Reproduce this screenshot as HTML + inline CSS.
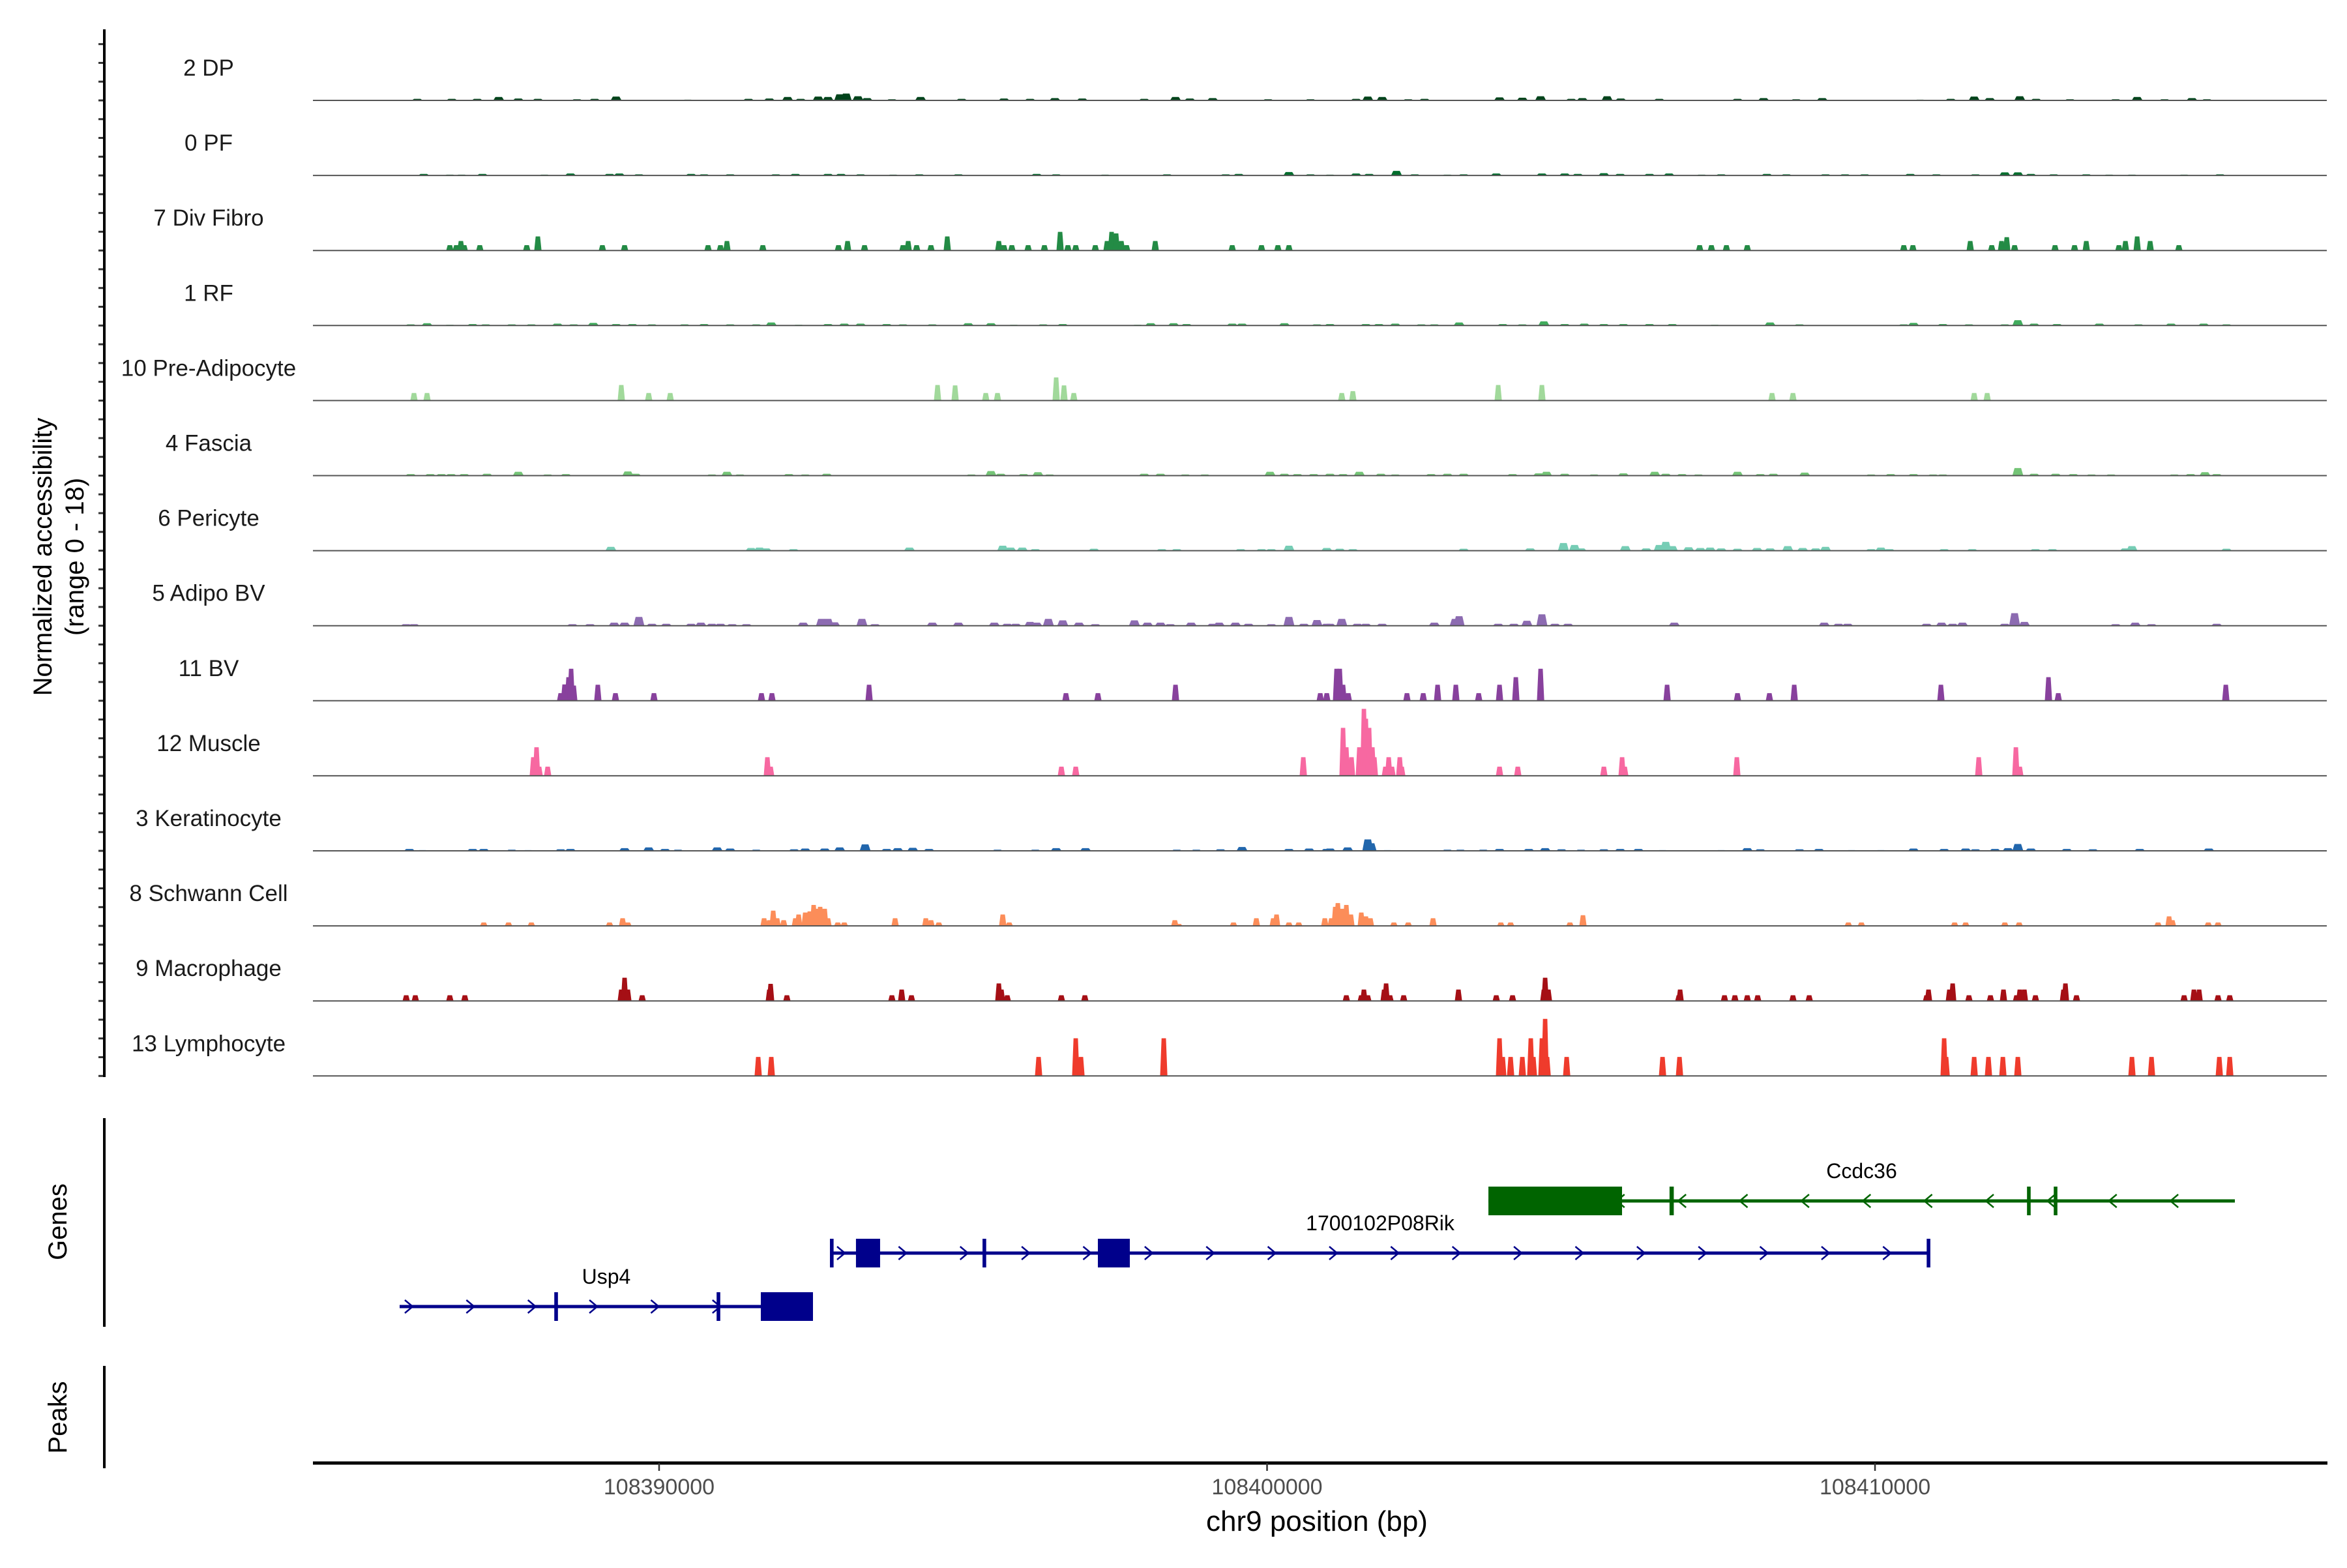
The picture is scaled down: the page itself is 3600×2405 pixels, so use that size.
<!DOCTYPE html>
<html><head><meta charset="utf-8"><style>
html,body{margin:0;padding:0;background:#fff;}
svg text{font-family:"Liberation Sans",Arial,sans-serif;}
</style></head><body>
<svg id="chart" xmlns="http://www.w3.org/2000/svg" width="3600" height="2400" viewBox="0 0 3600 2400">
<rect x="0" y="0" width="3600" height="2400" fill="#fff"/>
<g id="tracks"></g>
<g id="genes"></g>
<g id="axes"></g>
</svg>
<script>
const trackNames = ["2 DP","0 PF","7 Div Fibro","1 RF","10 Pre-Adipocyte","4 Fascia","6 Pericyte","5 Adipo BV","11 BV","12 Muscle","3 Keratinocyte","8 Schwann Cell","9 Macrophage","13 Lymphocyte"];
const trackColors = ["#00441b","#006d2c","#238b45","#41ab5d","#a1d99b","#74c476","#76cdb5","#8c6bb1","#88419d","#f768a1","#2166ac","#fc8d59","#a50f15","#ef3b2c"];
const xTicks = [108390000,108400000,108410000];
const xTickLabels = ["108390000","108400000","108410000"];
const yRange = [0,18];

const peaksDP = [[108386022,0.4],[108386590,0.4],[108387008,0.4],[108387362,0.9],[108387684,0.5],[108388006,0.4],[108388649,0.3],[108388939,0.4],[108389293,1.0],[108390472,0.2],[108391470,0.4],[108391813,0.5],[108392113,0.9],[108392328,0.4],[108392617,1.0],[108392778,0.9],[108392971,1.6],[108393078,1.8],[108393271,1.1],[108393421,0.6],[108393829,0.3],[108394301,0.9],[108394976,0.4],[108395673,0.5],[108396102,0.4],[108396510,0.6],[108396960,0.5],[108397979,0.4],[108398494,0.9],[108398730,0.5],[108399105,0.6],[108400017,0.3],[108400714,0.3],[108401464,0.4],[108401657,1.0],[108401893,0.9],[108402322,0.3],[108402590,0.4],[108403824,0.8],[108404199,0.7],[108404499,1.1],[108405003,0.4],[108405186,0.6],[108405593,1.1],[108405818,0.5],[108406451,0.4],[108407738,0.4],[108408167,0.6],[108408703,0.3],[108409132,0.6],[108410741,0.2],[108411245,0.4],[108411631,1.0],[108411888,0.6],[108412381,1.1],[108412650,0.4],[108413207,0.3],[108413958,0.3],[108414312,0.9],[108414762,0.3],[108415213,0.6],[108415459,0.3]];
const peaksPF = [[108386129,0.4],[108386558,0.2],[108386751,0.2],[108387094,0.4],[108387738,0.1],[108388113,0.2],[108388542,0.5],[108389185,0.4],[108389346,0.5],[108389668,0.3],[108390526,0.4],[108390740,0.3],[108391169,0.3],[108391920,0.3],[108392242,0.4],[108392778,0.4],[108392992,0.4],[108393314,0.3],[108393850,0.2],[108394279,0.3],[108394923,0.3],[108396210,0.4],[108396531,0.3],[108397336,0.2],[108398354,0.3],[108399320,0.3],[108399534,0.4],[108400360,0.9],[108400714,0.3],[108401035,0.2],[108401464,0.5],[108401679,0.4],[108402129,1.2],[108402430,0.3],[108402966,0.2],[108403234,0.3],[108403770,0.5],[108404521,0.5],[108404896,0.5],[108405111,0.4],[108405540,0.6],[108405808,0.4],[108406290,0.4],[108406612,0.5],[108407148,0.2],[108407470,0.3],[108408221,0.4],[108408542,0.3],[108409186,0.3],[108409507,0.3],[108409829,0.3],[108410580,0.4],[108411009,0.3],[108411652,0.3],[108412135,0.8],[108412349,0.8],[108412564,0.4],[108412939,0.3],[108413475,0.3],[108413851,0.2],[108414226,0.2],[108415084,0.2],[108415674,0.3]];
const peaksDivFibro = [[108386558,1.4],[108386665,1.4],[108386740,2.5],[108386794,1.4],[108387051,1.4],[108387823,1.4],[108388006,3.7],[108389067,1.4],[108389432,1.4],[108390805,1.4],[108391009,1.4],[108391116,2.5],[108391706,1.4],[108392950,1.4],[108393100,2.5],[108393379,1.4],[108394011,1.4],[108394097,2.5],[108394236,1.4],[108394472,1.4],[108394740,3.7],[108395588,2.5],[108395673,1.4],[108395802,1.4],[108396070,1.4],[108396338,1.4],[108396596,4.9],[108396724,1.4],[108396853,1.4],[108397175,1.4],[108397368,2.5],[108397443,4.9],[108397518,4.5],[108397604,2.5],[108397690,1.4],[108398161,2.5],[108399427,1.4],[108399909,1.4],[108400178,1.4],[108400360,1.4],[108407116,1.4],[108407309,1.4],[108407556,1.4],[108407899,1.4],[108410473,1.4],[108410623,1.4],[108411566,2.5],[108411920,1.4],[108412081,2.5],[108412167,3.5],[108412296,1.4],[108412961,1.4],[108413282,1.4],[108413475,2.5],[108414012,1.4],[108414119,2.5],[108414312,3.7],[108414526,2.5],[108414998,1.4]];
const peaksRF = [[108385915,0.3],[108386183,0.6],[108386558,0.2],[108386933,0.4],[108387148,0.3],[108387577,0.3],[108387899,0.3],[108388328,0.5],[108388596,0.3],[108388917,0.7],[108389293,0.4],[108389561,0.4],[108389882,0.3],[108390419,0.3],[108390740,0.4],[108391169,0.3],[108391598,0.3],[108391845,0.8],[108392295,0.2],[108392778,0.4],[108393046,0.5],[108393314,0.5],[108393743,0.4],[108394011,0.3],[108394494,0.3],[108395084,0.6],[108395459,0.6],[108395834,0.2],[108396317,0.3],[108396639,0.4],[108397872,0.2],[108398086,0.6],[108398462,0.6],[108398676,0.4],[108399427,0.5],[108399588,0.5],[108400285,0.6],[108400821,0.3],[108401035,0.4],[108401625,0.4],[108401840,0.4],[108402108,0.5],[108402537,0.3],[108402751,0.3],[108403159,0.8],[108403877,0.4],[108404199,0.3],[108404553,1.1],[108404896,0.4],[108405218,0.5],[108405540,0.4],[108405861,0.4],[108406290,0.4],[108406666,0.4],[108407363,0.2],[108408274,0.8],[108408757,0.3],[108410473,0.3],[108410633,0.7],[108411116,0.4],[108411545,0.3],[108412135,0.3],[108412349,1.4],[108412617,0.5],[108412993,0.4],[108413690,0.5],[108414333,0.3],[108414869,0.5],[108415406,0.5],[108415781,0.3]];
const peaksPreAdipo = [[108385968,2],[108386183,2],[108389378,4.1],[108389829,2],[108390183,2],[108394580,4.1],[108394869,4],[108395373,2],[108395566,2],[108396531,6.1],[108396660,4],[108396821,2],[108401229,2],[108401411,2.5],[108403802,4.1],[108404521,4.1],[108408306,2],[108408650,2],[108411631,2],[108411845,2]];
const peaksFascia = [[108385915,0.4],[108386236,0.4],[108386419,0.4],[108386579,0.4],[108386794,0.4],[108387169,0.5],[108387684,1.0],[108388167,0.3],[108388467,0.4],[108389486,1.1],[108389614,0.5],[108390869,0.3],[108391116,1.0],[108391330,0.3],[108392135,0.4],[108392403,0.3],[108392757,0.5],[108395137,0.3],[108395459,1.2],[108395620,0.5],[108395995,0.4],[108396231,0.9],[108396424,0.3],[108397979,0.5],[108398247,0.5],[108398655,0.3],[108398976,0.3],[108400049,1.0],[108400285,0.5],[108400499,0.4],[108400767,0.4],[108401035,0.5],[108401250,0.4],[108401518,1.0],[108401872,0.5],[108402108,0.3],[108402698,0.4],[108402966,0.5],[108403234,0.5],[108404038,0.4],[108404467,0.6],[108404596,1.0],[108404896,0.5],[108405379,0.3],[108405861,0.6],[108406376,1.0],[108406558,0.5],[108406826,0.4],[108407095,0.3],[108407738,1.0],[108408113,0.4],[108408328,0.5],[108408843,0.8],[108409936,0.3],[108410258,0.4],[108410633,0.4],[108410955,0.3],[108411116,0.3],[108412349,2.0],[108412617,0.5],[108412971,0.5],[108413261,0.4],[108413561,0.3],[108413883,0.3],[108414923,0.3],[108415191,0.4],[108415427,0.9],[108415620,0.4]];
const peaksPericyte = [[108389207,1.0],[108391513,0.7],[108391652,0.8],[108391759,0.6],[108392210,0.4],[108394118,0.8],[108395652,1.3],[108395781,0.8],[108395974,0.8],[108396188,0.4],[108397153,0.5],[108398269,0.4],[108398515,0.4],[108399566,0.4],[108399909,0.4],[108400070,0.4],[108400360,1.3],[108400982,0.7],[108401196,0.5],[108401411,0.4],[108403234,0.5],[108404328,0.6],[108404875,2.0],[108405057,1.5],[108405164,0.6],[108405893,1.2],[108406237,0.6],[108406451,1.5],[108406558,2.3],[108406666,1.2],[108406934,0.9],[108407127,0.7],[108407288,0.8],[108407470,0.6],[108407738,0.5],[108408060,0.7],[108408274,0.6],[108408564,1.2],[108408810,0.7],[108409025,0.6],[108409186,1.0],[108409936,0.4],[108410097,0.8],[108410237,0.4],[108411137,0.4],[108411599,0.4],[108412639,0.4],[108412918,0.4],[108414119,0.6],[108414226,1.2],[108415781,0.5]];
const peaksAdipoBV = [[108385840,0.4],[108385968,0.4],[108388574,0.4],[108388864,0.4],[108389261,0.8],[108389432,0.8],[108389668,2.3],[108389882,0.5],[108390118,0.5],[108390526,0.5],[108390687,0.8],[108390869,0.5],[108391009,0.5],[108391202,0.4],[108391437,0.4],[108392370,0.8],[108392671,1.8],[108392778,1.8],[108392885,0.9],[108393336,1.8],[108393550,0.4],[108394494,0.8],[108394923,0.8],[108395513,0.8],[108395727,0.5],[108395866,0.5],[108396102,1.0],[108396210,0.8],[108396403,1.8],[108396639,1.4],[108396907,0.8],[108397175,0.4],[108397818,1.4],[108398033,0.8],[108398247,0.8],[108398408,0.4],[108398751,0.8],[108399105,0.5],[108399212,0.8],[108399480,0.8],[108399695,0.5],[108400070,0.4],[108400360,2.3],[108400606,0.5],[108400821,1.5],[108401035,0.5],[108400982,0.5],[108401229,1.8],[108401486,0.5],[108401625,0.5],[108401893,0.5],[108402751,0.8],[108403094,1.8],[108403159,2.5],[108403802,0.5],[108404060,0.5],[108404274,1.3],[108404521,3.0],[108404735,0.5],[108404950,0.5],[108406698,0.8],[108409164,0.8],[108409400,0.5],[108409550,0.5],[108410848,0.5],[108411094,0.8],[108411277,0.5],[108411438,0.8],[108412135,0.5],[108412296,3.3],[108412457,1.0],[108413958,0.4],[108414280,0.8],[108414548,0.4],[108415620,0.5]];
const peaksBV = [[108388381,2],[108388445,4.3],[108388510,6.2],[108388553,8.4],[108388596,4.0],[108388992,4.2],[108389282,2],[108389915,2],[108391684,2],[108391856,2],[108393454,4.2],[108396692,2],[108397218,2],[108398494,4.2],[108400982,2],[108400875,2],[108401143,8.4],[108401196,8.4],[108401250,4.2],[108401336,2],[108402301,2],[108402569,2],[108402805,4.2],[108403105,4.2],[108403481,2],[108403824,4.2],[108404092,6.2],[108404499,8.4],[108406580,4.2],[108407738,2],[108408263,2],[108408671,4.2],[108411084,4.2],[108412853,6.2],[108413014,2],[108415770,4.2]];
const peaksMuscle = [[108387931,4.9],[108387984,7.5],[108388027,2.4],[108388167,2.4],[108391781,4.9],[108391834,2.4],[108396617,2.4],[108396853,2.4],[108400596,4.9],[108401250,12.6],[108401304,7.5],[108401389,4.9],[108401518,7.5],[108401593,17.6],[108401625,15],[108401679,12.6],[108401733,7.5],[108401765,4.9],[108401947,2.4],[108402001,4.9],[108402054,2.4],[108402183,4.9],[108402215,2.4],[108403824,2.4],[108404124,2.4],[108405540,2.4],[108405840,4.9],[108405883,2.4],[108407727,4.9],[108411706,4.9],[108412317,7.5],[108412381,2.4]];
const peaksKeratinocyte = [[108385893,0.5],[108386108,0.2],[108386933,0.5],[108387116,0.5],[108387577,0.3],[108387845,0.2],[108388381,0.4],[108388542,0.5],[108389432,0.7],[108389829,0.9],[108390097,0.5],[108390311,0.3],[108390955,0.9],[108391169,0.6],[108391598,0.3],[108392220,0.4],[108392403,0.6],[108392724,0.6],[108392971,0.9],[108393389,1.7],[108393743,0.5],[108393925,0.7],[108394172,0.8],[108394440,0.5],[108395566,0.3],[108396188,0.3],[108396531,0.7],[108397014,0.7],[108398515,0.3],[108398837,0.3],[108399234,0.4],[108399588,1.0],[108400360,0.5],[108400692,0.6],[108401035,0.6],[108400982,0.5],[108401325,0.9],[108401657,3.0],[108401711,2.0],[108401979,0.2],[108402966,0.3],[108403180,0.3],[108403556,0.3],[108403824,0.5],[108404306,0.5],[108404574,0.7],[108404843,0.4],[108405164,0.3],[108405540,0.4],[108405808,0.5],[108406108,0.5],[108406505,0.2],[108407470,0.2],[108407899,0.7],[108408113,0.4],[108408757,0.4],[108409078,0.5],[108409615,0.2],[108410097,0.2],[108410633,0.6],[108411137,0.5],[108411491,0.6],[108411652,0.4],[108411973,0.5],[108412188,0.7],[108412349,1.8],[108412564,0.6],[108413154,0.5],[108413583,0.4],[108414354,0.5],[108415491,0.6]];
const peaksSchwann = [[108387116,0.9],[108387523,0.9],[108387899,0.9],[108389185,0.9],[108389400,2.0],[108389486,0.9],[108391727,2.0],[108391813,1.5],[108391877,4.0],[108391941,2.0],[108392049,1.5],[108392242,2.0],[108392295,3.0],[108392403,3.5],[108392478,3.8],[108392542,5.5],[108392585,4.5],[108392649,5.0],[108392724,4.5],[108392778,2.0],[108392939,0.9],[108393046,0.9],[108393882,2.0],[108394387,2.0],[108394472,1.5],[108394601,0.9],[108395652,3.0],[108395759,0.9],[108398483,1.5],[108398547,0.5],[108399448,0.9],[108399824,2.0],[108400102,2.0],[108400156,3.0],[108400360,0.9],[108400521,0.9],[108401057,2.0],[108400950,2.0],[108401121,5.0],[108401164,6.0],[108401229,4.5],[108401304,5.5],[108401379,3.0],[108401550,3.5],[108401625,2.5],[108401700,2.0],[108402086,0.9],[108402322,0.9],[108402730,2.0],[108403845,0.9],[108404006,0.9],[108404982,0.9],[108405196,2.8],[108409561,0.9],[108409776,0.9],[108411309,0.9],[108411491,0.9],[108412135,0.9],[108412371,0.9],[108414655,0.9],[108414837,2.5],[108414891,1.5],[108415481,0.9],[108415642,0.9]];
const peaksMacrophage = [[108385840,1.5],[108385990,1.5],[108386558,1.5],[108386805,1.5],[108389378,3.0],[108389432,6.1],[108389486,3.0],[108389722,1.5],[108391813,3.0],[108391834,4.5],[108392102,1.5],[108393829,1.5],[108393990,3.0],[108394151,1.5],[108395588,4.6],[108395631,3.0],[108395727,1.5],[108396617,1.5],[108397003,1.5],[108401304,1.5],[108401550,1.5],[108401593,3.0],[108401657,1.5],[108401926,3.0],[108401958,4.6],[108402022,1.5],[108402247,1.5],[108403148,3.0],[108403770,1.5],[108404038,1.5],[108404553,3.0],[108404574,6.1],[108404628,3.0],[108406773,1.5],[108406794,3.0],[108407524,1.5],[108407695,1.5],[108407899,1.5],[108408070,1.5],[108408650,1.5],[108408918,1.5],[108410848,1.5],[108410880,3.0],[108411223,3.0],[108411277,4.6],[108411545,1.5],[108411899,1.5],[108412113,3.0],[108412328,1.5],[108412381,3.0],[108412457,3.0],[108412639,1.5],[108413100,3.0],[108413132,4.6],[108413314,1.5],[108415084,1.5],[108415245,3.0],[108415331,3.0],[108415642,1.5],[108415835,1.5]];
const peaksLymphocyte = [[108391630,5],[108391845,5],[108396242,5],[108396853,9.9],[108396939,5],[108398301,9.9],[108403824,9.9],[108403877,5],[108404006,5],[108404199,5],[108404338,9.9],[108404381,5],[108404521,9.9],[108404574,15],[108404607,5],[108404928,5],[108406505,5],[108406784,5],[108411137,9.9],[108411170,5],[108411631,5],[108411866,5],[108412103,5],[108412349,5],[108414226,5],[108414548,5],[108415663,5],[108415835,5]];
const allPeaks = [peaksDP,peaksPF,peaksDivFibro,peaksRF,peaksPreAdipo,peaksFascia,peaksPericyte,peaksAdipoBV,peaksBV,peaksMuscle,peaksKeratinocyte,peaksSchwann,peaksMacrophage,peaksLymphocyte];

const geneNames = ["Ccdc36","1700102P08Rik","Usp4"];
const geneStarts = [108403641,108392842,108385732];
const geneEnds = [108415919,108410880,108392531];
const geneStrands = [-1,1,1];
const geneColors = ["#006400","#00008b","#00008b"];
const geneExons = [
  [[108403641,108405839],[108406620,108406690],[108412500,108412560],[108412940,108413000]],
  [[108392810,108392870],[108393238,108393635],[108395320,108395380],[108397217,108397743],[108410850,108410910]],
  [[108388276,108388336],[108390946,108391006],[108391673,108392531]]
];

const NS = "http://www.w3.org/2000/svg";
const XMIN = 108384306, XMAX = 108417431, PX0 = 480, PX1 = 3569;
function xs(bp){ return PX0 + (bp - XMIN) / (XMAX - XMIN) * (PX1 - PX0); }
const TRACK_TOP = 154, TRACK_STEP = 115.1, TRACK_H = 105;
function ys(i, v){ return TRACK_TOP + i*TRACK_STEP - (v - yRange[0])/(yRange[1]-yRange[0]) * TRACK_H; }
function mk(tag, attrs, parent){
  const e = document.createElementNS(NS, tag);
  for (const k in attrs) e.setAttribute(k, attrs[k]);
  parent.appendChild(e);
  return e;
}
const gT = document.getElementById('tracks');
const gG = document.getElementById('genes');
const gA = document.getElementById('axes');
const noisy = [0,1,3,5,6,7,10];

allPeaks.forEach((peaks, i) => {
  const base = ys(i, 0);
  const g = mk('g', {}, gT);
  
  
  const lab = mk('text', {x:320, y:base-38, 'text-anchor':'middle', 'font-size':35, fill:'#1a1a1a'}, g);
  lab.textContent = trackNames[i];
  
  
  const halfW = noisy.includes(i) ? 90 : 60;
  peaks.forEach(p => {
    const x0 = xs(p[0]-halfW), x1 = xs(p[0]+halfW), yt = ys(i, p[1]);
    const t = (x1-x0)*0.2;
    const poly = mk('polygon', {points:`${x0},${base} ${x0+t},${yt} ${x1-t},${yt} ${x1},${base}`, fill:trackColors[i]}, g);
    
    
  });
  const bl = mk('line', {x1:PX0, x2:PX1, y1:base, y2:base, stroke:'#555', 'stroke-width':2}, g);
  
  
  for (let j=0;j<4;j++){
    const ty = base - j*TRACK_STEP/4;
    const tk = mk('line', {x1:151, x2:160, y1:ty, y2:ty, stroke:'#333', 'stroke-width':3}, gA);
    
    
  }
});

const geneLineY = [1842,1922,2004];
geneNames.forEach((name, k) => {
  const col = geneColors[k], ly = geneLineY[k];
  const g = mk('g', {}, gG);
  
  
  const ln = mk('line', {x1:xs(geneStarts[k]), x2:xs(geneEnds[k]), y1:ly, y2:ly, stroke:col, 'stroke-width':5}, g);
  
  
  for (let bp = geneStarts[k] + 150; bp < geneEnds[k] - 100; bp += 1012){
    const ax = xs(bp), d = 6*geneStrands[k];
    const ch = mk('polyline', {points:`${ax-d},${ly-10} ${ax+d},${ly} ${ax-d},${ly+10}`, fill:'none', stroke:col, 'stroke-width':2.5}, g);
    
    
  }
  geneExons[k].forEach(ex => {
    const x0 = xs(ex[0]), x1 = xs(ex[1]);
    const w = Math.max(x1-x0, 4);
    const r = mk('rect', {x:x0, y:ly-22, width:w, height:44, fill:col}, g);
    
    
  });
  const t = mk('text', {x:(xs(geneStarts[k])+xs(geneEnds[k]))/2, y:ly-35, 'text-anchor':'middle', 'font-size':32, fill:'#000'}, g);
  t.textContent = name;
  
  
});

// axes
function line(a, name){ const l = mk('line', a, gA);   return l; }
line({x1:160,x2:160,y1:45,y2:1652,stroke:'#000','stroke-width':4}, 'y-axis-line');
line({x1:160,x2:160,y1:1715,y2:2035,stroke:'#000','stroke-width':4}, 'genes-axis-line');
line({x1:160,x2:160,y1:2095,y2:2252,stroke:'#000','stroke-width':4}, 'peaks-axis-line');
line({x1:PX0,x2:PX1+1,y1:2244,y2:2244,stroke:'#000','stroke-width':5}, 'x-axis-line');
xTicks.forEach((v, i) => {
  line({x1:xs(v),x2:xs(v),y1:2244,y2:2256,stroke:'#333','stroke-width':2.5}, 'x-tick');
  const t = mk('text', {x:xs(v), y:2292, 'text-anchor':'middle', 'font-size':34, fill:'#4d4d4d'}, gA);
  t.textContent = xTickLabels[i];
  
  
});
function txt(s, a, name){ const t = mk('text', a, gA); t.textContent = s;   return t; }
txt('chr9 position (bp)', {x:2020, y:2348, 'text-anchor':'middle', 'font-size':44, fill:'#000'}, 'x-axis-title');
txt('Normalized accessibility', {x:0, y:0, 'text-anchor':'middle', 'font-size':40, fill:'#000', transform:'translate(79,854) rotate(-90)'}, 'y-axis-title');
txt('(range 0 - 18)', {x:0, y:0, 'text-anchor':'middle', 'font-size':40, fill:'#000', transform:'translate(128,854) rotate(-90)'}, 'y-axis-range');
txt('Genes', {x:0, y:0, 'text-anchor':'middle', 'font-size':40, fill:'#000', transform:'translate(102,1874) rotate(-90)'}, 'genes-axis-title');
txt('Peaks', {x:0, y:0, 'text-anchor':'middle', 'font-size':40, fill:'#000', transform:'translate(102,2174) rotate(-90)'}, 'peaks-axis-title');
</script>
</body></html>
